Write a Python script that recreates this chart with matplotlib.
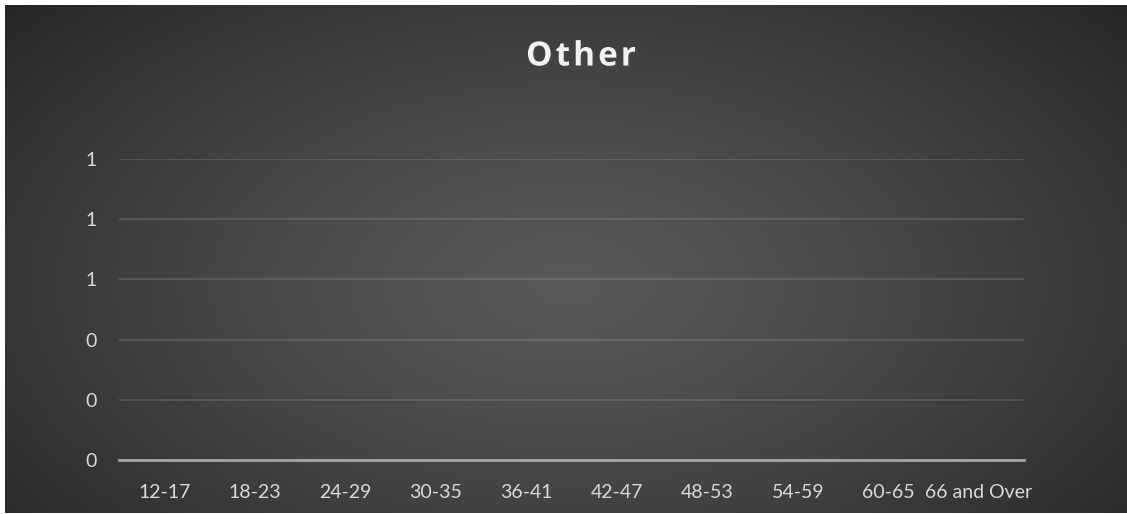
import numpy as np
import matplotlib
matplotlib.use("Agg")
import matplotlib.pyplot as plt
import matplotlib.patheffects as pe
from matplotlib.ticker import FuncFormatter

categories = ["12-17", "18-23", "24-29", "30-35", "36-41", "42-47",
              "48-53", "54-59", "60-65", "66 and Over"]
values = [0, 0, 0, 0, 0, 0, 0, 0, 0, 0]
title = "Other"

W, H = 1127, 514
fig = plt.figure(figsize=(W / 100, H / 100), dpi=100, facecolor="white")

# dark radial gradient panel (Excel style)
bg = fig.add_axes([5 / W, 1 / H, 1 - 5 / W, 1 - 6 / H])
bg.set_axis_off()
gx, gy = np.meshgrid(np.linspace(0, 1, 600), np.linspace(0, 1, 300))
r = np.sqrt(((gx - 0.5) / 0.68) ** 2 + ((gy - 0.55) / 0.85) ** 2)
r = np.clip(r, 0, 1)
shade = 0.345 - (0.345 - 0.145) * r ** 1.3
img = np.dstack([shade, shade, shade])
bg.imshow(img, aspect="auto", extent=(0, 1, 0, 1), origin="upper")

ax = fig.add_axes([119 / W, 1 - 460 / H, (1024 - 119) / W, (460 - 159) / H])
ax.patch.set_alpha(0)
x = np.arange(len(categories))
ax.bar(x, values, width=0.6, color="#a5a5a5")
ax.set_xlim(-0.5, len(categories) - 0.5)
ax.set_ylim(0, 1)
ax.set_yticks(np.linspace(0, 1, 6))
ax.yaxis.set_major_formatter(FuncFormatter(lambda v, p: f"{v:.0f}"))
ax.set_xticks(x)
ax.set_xticklabels(categories)
ax.grid(axis="y", color="white", alpha=0.13, linewidth=1.3)
ax.set_axisbelow(True)
for s in ["top", "right", "left"]:
    ax.spines[s].set_visible(False)
ax.spines["bottom"].set_color("#a6a6a6")
ax.spines["bottom"].set_linewidth(2)
ax.tick_params(length=0, colors="#d9d9d9", labelsize=14, pad=17)
ax.tick_params(axis="y", pad=16)
for lab in ax.get_xticklabels() + ax.get_yticklabels():
    lab.set_fontfamily("Lato")

# title drawn letter by letter to get the wide spacing
tx = 526 / W
for ch in title:
    t = fig.text(tx, 1 - 57 / H, ch, ha="left", va="center", color="#f2f2f2",
                 fontsize=24, fontweight="bold", family="Open Sans",
                 path_effects=[pe.SimplePatchShadow(offset=(1.5, -1.5), alpha=0.6),
                               pe.Normal()])
    bb = t.get_window_extent(renderer=fig.canvas.get_renderer())
    tx += (bb.width + 3) / W

fig.savefig("out.png", dpi=100, facecolor=fig.get_facecolor())
